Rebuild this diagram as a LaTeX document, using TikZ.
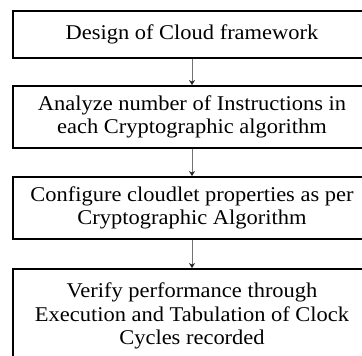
\documentclass[tikz,border=0pt]{standalone}
\usepackage{fontspec}
\setmainfont[FakeStretch=1.07]{Liberation Serif}
\usetikzlibrary{arrows.meta}
\begin{document}
\begin{tikzpicture}[x=1pt,y=-1pt,
  stage/.style={draw=black, line width=1.8pt, minimum width=358pt, align=center,
    inner sep=0pt, font=\fontsize{21}{23.5}\selectfont},
  flow/.style={draw=black!55, line width=0.9pt,
    -{Stealth[length=5pt,width=6pt,inset=1.5pt,color=black!85]}}]
\useasboundingbox (0,0) rectangle (362,356);
\clip (0,0) rectangle (362,356);
\node[stage, minimum height=47pt] (design) at (192,34.5) {Design of Cloud framework};
\node[stage, minimum height=62pt] (analyze) at (192,117) {Analyze number of Instructions in\\each Cryptographic algorithm};
\node[stage, minimum height=62pt] (config) at (192,208) {Configure cloudlet properties as per\\Cryptographic Algorithm};
\node[stage, minimum height=94pt] (verify) at (192,316) {Verify performance through\\Execution and Tabulation of Clock\\Cycles recorded};
\draw[flow] (design) -- (analyze);
\draw[flow] (analyze) -- (config);
\draw[flow] (config) -- (verify);
\end{tikzpicture}
\end{document}
